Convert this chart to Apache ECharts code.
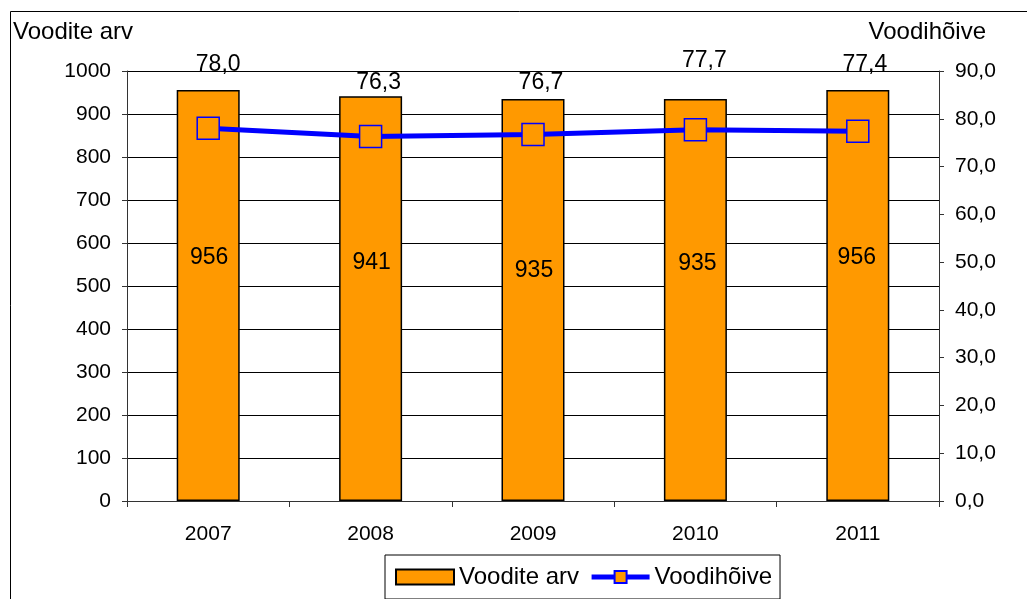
<!DOCTYPE html>
<html>
<head>
<meta charset="utf-8">
<script src="https://cdn.jsdelivr.net/npm/echarts@6/dist/echarts.min.js"></script>
<style>
  html, body { margin: 0; padding: 0; background: #fff; }
  #chart { width: 1027px; height: 599px; }
</style>
</head>
<body>
<div id="chart"></div>
<script>
// Hospital beds: count (bars, left axis) and occupancy rate (line, right axis)
const years = ['2007', '2008', '2009', '2010', '2011'];
const bedCount = [956, 941, 935, 935, 956];
const occupancy = [78.0, 76.3, 76.7, 77.7, 77.4];
const leftTicks = { min: 0, max: 1000, step: 100 };
const rightTicks = { min: 0, max: 90, step: 10 };

// hand-placed label nudges [dx, dy] in pixels
const bedLabelShift = [[1, -38], [1, -36], [1, -29], [2, -36], [-1, -38]];
const occLabelShift = [[10, -64], [8, -54], [8, -52], [9, -69], [7, -67]];

const FONT = '"Liberation Sans", Arial, sans-serif';
const FS = 21;       // axis numbers
const FS_LABEL = 23; // value labels
const FS_TEXT = 24;  // titles and legend
const ORANGE = '#FF9900';
const BLUE = '#0000FF';
const comma = v => Number(v).toFixed(1).replace('.', ',');

const chart = echarts.init(document.getElementById('chart'), null, { renderer: 'canvas' });

chart.setOption({
  animation: false,
  backgroundColor: '#fff',
  textStyle: { fontFamily: FONT, color: '#000' },
  grid: { left: 127, right: 88, top: 71, bottom: 98, containLabel: false },
  graphic: [
    {
      type: 'rect', silent: true, z: -1,
      shape: { x: 10.5, y: 11.5, width: 1040, height: 620 },
      style: { fill: null, stroke: '#000', lineWidth: 1 }
    },
    {
      type: 'text', left: 13, top: 20,
      style: { text: 'Voodite arv', font: FS_TEXT + 'px ' + FONT, fill: '#000' }
    },
    {
      type: 'text', right: 1027 - 986, top: 20,
      style: { text: 'Voodihõive', font: FS_TEXT + 'px ' + FONT, fill: '#000', align: 'right' }
    }
  ],
  legend: {
    left: 385, top: 555,
    orient: 'horizontal',
    padding: [10, 8, 10, 10],
    itemGap: 10,
    itemWidth: 58,
    itemHeight: 15,
    borderColor: '#000',
    borderWidth: 1,
    lineStyle: { width: 5 },
    textStyle: { fontFamily: FONT, fontSize: FS_TEXT, color: '#000' },
    data: [
      { name: 'Voodite arv', icon: 'rect' },
      { name: 'Voodihõive' }
    ]
  },
  xAxis: {
    type: 'category',
    data: years,
    axisLine: { lineStyle: { color: '#333', width: 1 } },
    axisTick: { show: true, length: 6, alignWithLabel: false, lineStyle: { color: '#333' } },
    axisLabel: { fontFamily: FONT, fontSize: FS, color: '#000', margin: 23 },
    splitLine: { show: false }
  },
  yAxis: [
    {
      type: 'value',
      min: leftTicks.min, max: leftTicks.max, interval: leftTicks.step,
      axisLine: { show: true, lineStyle: { color: '#333', width: 1 } },
      axisTick: { show: true, length: 5, lineStyle: { color: '#333' } },
      axisLabel: { fontFamily: FONT, fontSize: FS, color: '#000', margin: 16, formatter: v => String(v) },
      splitLine: { show: true, lineStyle: { color: '#000', width: 1 } }
    },
    {
      type: 'value',
      min: rightTicks.min, max: rightTicks.max, interval: rightTicks.step,
      position: 'right',
      axisLine: { show: true, lineStyle: { color: '#333', width: 1 } },
      axisTick: { show: true, length: 5, lineStyle: { color: '#333' } },
      axisLabel: { fontFamily: FONT, fontSize: FS, color: '#000', margin: 16, formatter: comma },
      splitLine: { show: false }
    }
  ],
  series: [
    {
      name: 'Voodite arv',
      type: 'bar',
      yAxisIndex: 0,
      barWidth: 63,
      itemStyle: { color: ORANGE, borderColor: '#000', borderWidth: 1.5 },
      data: bedCount.map((v, i) => ({
        value: v,
        label: {
          show: true, position: 'inside', offset: bedLabelShift[i],
          fontFamily: FONT, fontSize: FS_LABEL, color: '#000'
        }
      }))
    },
    {
      name: 'Voodihõive',
      type: 'line',
      yAxisIndex: 1,
      symbol: 'rect',
      symbolSize: 22,
      lineStyle: { color: BLUE, width: 5 },
      itemStyle: { color: ORANGE, borderColor: BLUE, borderWidth: 1.5 },
      z: 3,
      data: occupancy.map((v, i) => ({
        value: v,
        label: {
          show: true, position: 'inside', offset: occLabelShift[i],
          formatter: p => comma(p.value),
          fontFamily: FONT, fontSize: FS_LABEL, color: '#000'
        }
      }))
    }
  ]
});
</script>
</body>
</html>
